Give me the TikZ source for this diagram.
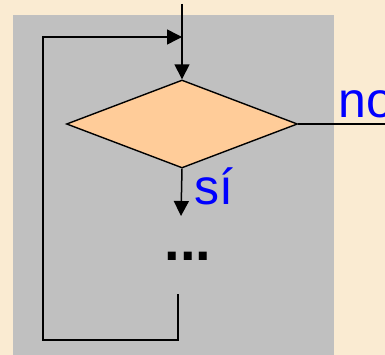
\documentclass[tikz,border=0pt]{standalone}
\usepackage{fontspec}
\setmainfont{Liberation Sans}
\usetikzlibrary{positioning, arrows.meta, shapes.geometric}

\definecolor{slidebg}{HTML}{FAEBD2}
\definecolor{panelgray}{HTML}{C0C0C0}
\definecolor{condfill}{HTML}{FFCC99}

\begin{document}
\begin{tikzpicture}[
            x=1pt, y=-1pt,
            decision/.style={diamond, draw, line width=1.4pt, fill=condfill, inner sep=0pt,
                        minimum width=231pt, minimum height=88pt, aspect=2.6},
            arrow/.style={-{Triangle[length=15pt, width=15pt]}, line width=1.5pt},
            flow/.style={line width=1.5pt},
            lbl/.style={font=\fontsize{50}{58}\selectfont, text=blue, inner sep=0pt},
        ]
            % Slide background and grey panel
            \clip (0,0) rectangle (385,355);
            \fill[slidebg] (0,0) rectangle (385,355);
            \fill[panelgray] (13,15) rectangle (334,360);

            % Condition and loop points
            \node[decision] (cond) at (182,124) {};
            \coordinate (entry)   at (182,4);
            \coordinate (join)    at (182,37);
            \coordinate (loopend) at (178,294);
            \coordinate (loopbl)  at (43,340);
            \coordinate (noend)   at (390,124);
            \coordinate (siend)   at (181,216);

            \node[font=\fontsize{56}{60}\selectfont\bfseries, inner sep=0pt, anchor=base] (body) at (188,260) {...};

            \draw[flow]  (entry) -- (join);
            \draw[arrow] (join) -- (cond.north);
            \draw[arrow] (loopend) |- (loopbl) |- (join);
            \draw[flow]  (cond.east) -- (noend);
            \draw[arrow] (cond.south) -- (siend);

            % Branch labels
            \node[lbl, anchor=base west] (nolbl) at (338,118) {no};
            \node[lbl, anchor=base west] (silbl) at (194,205) {sí};
        \end{tikzpicture}
\end{document}
